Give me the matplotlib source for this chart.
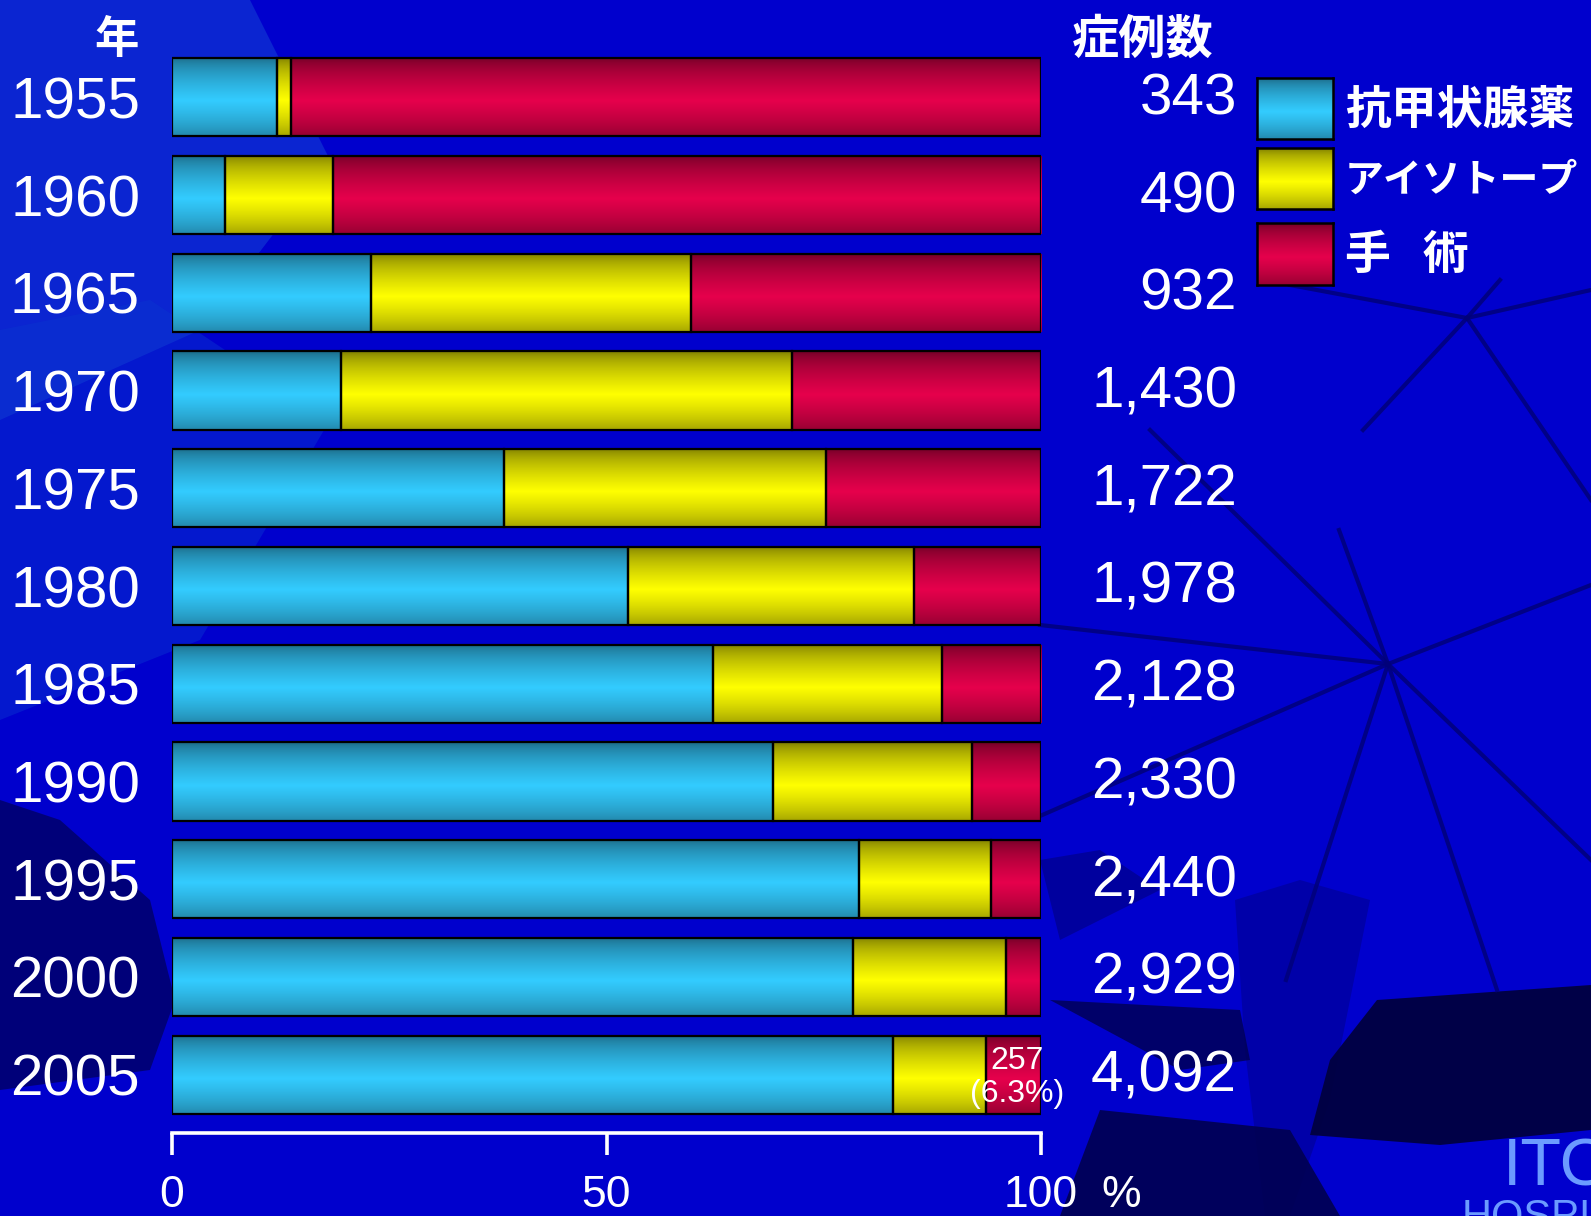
import matplotlib
matplotlib.use('Agg')
import matplotlib.pyplot as plt
import numpy as np
from matplotlib.patches import Rectangle, Polygon
from matplotlib.colors import to_rgb

years = ['1955', '1960', '1965', '1970', '1975', '1980', '1985', '1990', '1995', '2000', '2005']
cases = ['343', '490', '932', '1,430', '1,722', '1,978', '2,128', '2,330', '2,440', '2,929', '4,092']
drug = [12.1, 6.1, 22.9, 19.5, 38.2, 52.5, 62.2, 69.2, 79.1, 78.4, 83.0]
isotope = [1.6, 12.4, 36.8, 51.9, 37.1, 32.9, 26.4, 22.9, 15.2, 17.6, 10.7]
surgery = [86.3, 81.5, 40.3, 28.6, 24.7, 14.6, 11.4, 7.9, 5.7, 4.0, 6.3]
series_names = ['抗甲状腺薬', 'アイソトープ', '手\u2002\u2009術']
surgery_2005 = '257'
xticks = [0, 50, 100]

W, H = 1591, 1216
BG = '#0000CD'
cjk = ['Noto Sans CJK JP', 'DejaVu Sans']
sans = ['Liberation Sans', 'DejaVu Sans']

# (dark edge, bright middle) for each series
shades = [('#1a6480', '#33ccff'), ('#757500', '#ffff00'), ('#6a0024', '#e6004c')]


def gradient(dark, light):
    t = np.linspace(0, 1, 80)
    w = np.clip(1 - np.abs(t - 0.55) / 0.55, 0, 1) ** 0.6
    d, l = np.array(to_rgb(dark)), np.array(to_rgb(light))
    return (d[None, :] * (1 - w[:, None]) + l[None, :] * w[:, None])[:, None, :]


def fx(px):
    return px / W


def fy(py):
    return 1 - py / H


fig = plt.figure(figsize=(W / 100, H / 100), dpi=100)
fig.patch.set_facecolor(BG)

# background decoration (rough copy of the slide template)
deco = [
    ([(0, 0), (250, 0), (330, 160), (200, 330), (0, 420)], '#1544d6', 0.55),
    ([(0, 330), (150, 300), (330, 420), (200, 640), (0, 720)], '#0a36d0', 0.45),
    ([(0, 800), (60, 820), (150, 900), (175, 1000), (150, 1070), (0, 1090)], '#00006a', 0.85),
    ([(1235, 900), (1300, 880), (1370, 900), (1330, 1100), (1290, 1216), (1265, 1216), (1245, 1050)], '#0000a0', 0.8),
    ([(1377, 1000), (1591, 985), (1591, 1130), (1440, 1145), (1310, 1135), (1330, 1060)], '#000040', 0.95),
    ([(1050, 1000), (1240, 1010), (1250, 1060), (1180, 1070)], '#000050', 0.8),
    ([(1100, 1110), (1290, 1130), (1340, 1216), (1060, 1216)], '#000050', 0.9),
    ([(1040, 860), (1100, 850), (1160, 890), (1060, 940)], '#00008a', 0.7),
]
for pts, col, a in deco:
    fig.add_artist(Polygon([(fx(x), fy(y)) for x, y in pts], closed=True,
                           facecolor=col, edgecolor='none', alpha=a,
                           transform=fig.transFigure, zorder=-2))

# radiating stalks
stalks = [((1388, 664), [(1150, 430), (1040, 625), (1040, 816), (1286, 980), (1497, 990),
                         (1591, 860), (1591, 585), (1339, 530)]),
          ((1467, 318), [(1363, 430), (1591, 500), (1290, 285), (1500, 280), (1591, 290)])]
for (cx, cy), ends in stalks:
    for ex, ey in ends:
        fig.add_artist(plt.Line2D([fx(cx), fx(ex)], [fy(cy), fy(ey)], color='#00007a',
                                  lw=3, alpha=0.85, transform=fig.transFigure, zorder=-1))

ax = fig.add_axes([fx(172), fy(1123.5), fx(1041) - fx(172), (1123.5 - 48.5) / H])
ax.set_facecolor('none')

y = np.arange(len(years))
h = 0.8
left = np.zeros(len(years))
bars_all = []
for vals, (dark, light) in zip([drug, isotope, surgery], shades):
    bars = ax.barh(y, vals, left=left, height=h, color=light, edgecolor='none', zorder=2)
    grad = gradient(dark, light)
    for b in bars:
        x0, y0 = b.get_xy()
        im = ax.imshow(grad, extent=(x0, x0 + b.get_width(), y0 + b.get_height(), y0),
                       origin='upper', aspect='auto', zorder=2.5, interpolation='bilinear')
        im.set_clip_path(b)
        ax.add_patch(Rectangle((x0, y0), b.get_width(), b.get_height(), fill=False,
                               ec='black', lw=1.6, zorder=3))
    bars_all.append(bars)
    left = left + np.array(vals)

ax.set_xlim(0, 100)
ax.set_ylim(len(years) - 0.5, -0.5)

# surgery label for 2005
last = bars_all[2][-1]
ax.text(last.get_x() + last.get_width() / 2 + 0.4, y[-1] + 0.03,
        surgery_2005 + '\n(' + f'{surgery[-1]:.1f}' + '%)',
        ha='center', va='center', color='white', fontsize=23, family=sans,
        linespacing=1.15, zorder=4)

# case counts
for yi, c in zip(y, cases):
    ax.text((1237 - 172) / (1041 - 172), yi + 0.02, c, transform=ax.get_yaxis_transform(),
            ha='right', va='center', color='white', fontsize=42, family=sans)

# axes styling
for s in ['top', 'right', 'left']:
    ax.spines[s].set_visible(False)
ax.spines['bottom'].set_position(('outward', 7))
ax.spines['bottom'].set_color('white')
ax.spines['bottom'].set_linewidth(2.6)
ax.set_xticks(xticks)
ax.set_xticklabels([str(v) for v in xticks], family=sans, fontsize=32)
ax.tick_params(axis='x', colors='white', length=16, width=2.6, pad=14)
ax.set_yticks(y)
ax.set_yticklabels(years, family=sans, fontsize=42)
ax.tick_params(axis='y', colors='white', length=0, pad=23)
ax.annotate('%', xy=(100, 0), xycoords=ax.get_xaxis_transform(), xytext=(58, -37),
            textcoords='offset points', ha='center', va='top', color='white',
            fontsize=32, family=sans, annotation_clip=False)

# headers
fig.text(fx(117), fy(40), '年', ha='center', va='center', color='white',
         fontsize=32, fontweight='bold', family=cjk)
fig.text(fx(1143), fy(40), '症例数', ha='center', va='center', color='white',
         fontsize=34, fontweight='bold', family=cjk)

# legend
boxes = [(78, 139), (148, 209), (223, 285)]
sizes = [33, 28, 33]
for (top, bot), name, (dark, light), fs in zip(boxes, series_names, shades, sizes):
    lax = fig.add_axes([fx(1257), fy(bot), fx(1333) - fx(1257), (bot - top) / H])
    lax.imshow(gradient(dark, light), aspect='auto', extent=(0, 1, 0, 1), interpolation='bilinear')
    lax.set_xticks([])
    lax.set_yticks([])
    for s in lax.spines.values():
        s.set_linewidth(1.8)
        s.set_color('black')
    fig.text(fx(1345), fy((top + bot) / 2 + 2), name, ha='left', va='center', color='white',
             fontsize=fs, fontweight='bold', family=cjk)

# logo (partly cut off at the edge)
fig.text(fx(1503), fy(1186), 'ITO', ha='left', va='baseline', color='#6b9bff',
         fontsize=48, family=sans)
fig.text(fx(1462), fy(1198), 'HOSPITAL', ha='left', va='top', color='#6b9bff',
         fontsize=30, family=sans)

fig.savefig('out.png', dpi=100, facecolor=fig.get_facecolor())
